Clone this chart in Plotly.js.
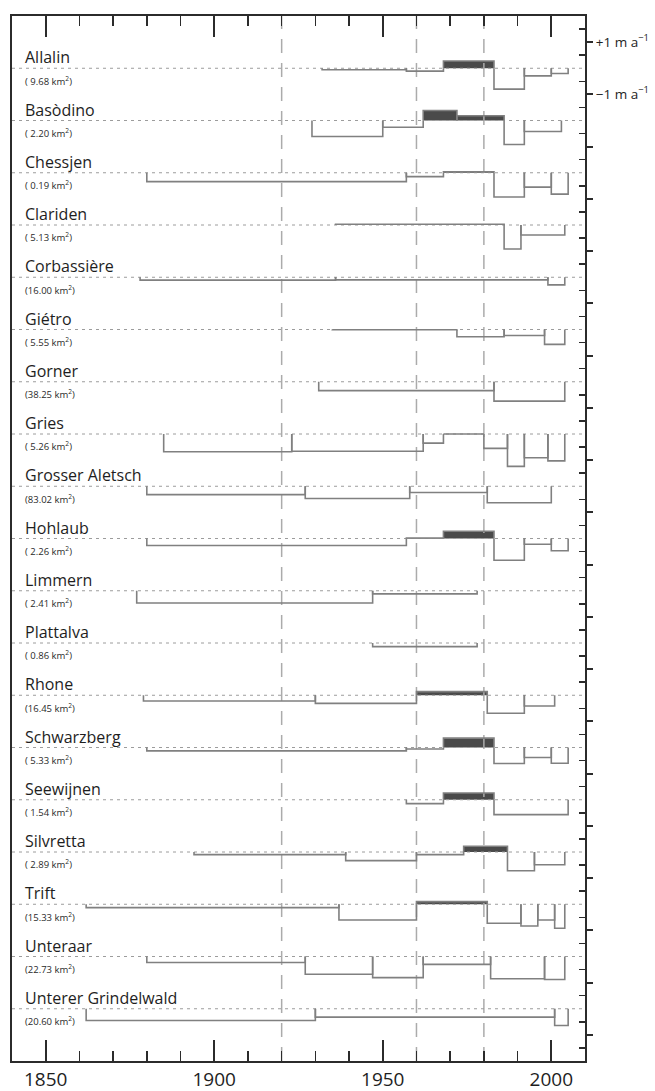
<!DOCTYPE html>
<html>
<head>
<meta charset="utf-8">
<script src="https://cdn.plot.ly/plotly-3.0.1.min.js"></script>
<style>
html,body{margin:0;padding:0;background:#ffffff;}
#chart{width:655px;height:1091px;}
</style>
</head>
<body>
<div id="chart"></div>
<script>
// Glacier names and areas (km²)
const glacierNames = ['Allalin','Basòdino','Chessjen','Clariden','Corbassière','Giétro','Gorner','Gries','Grosser Aletsch','Hohlaub','Limmern','Plattalva','Rhone','Schwarzberg','Seewijnen','Silvretta','Trift','Unteraar','Unterer Grindelwald'];
const glacierAreas = ['( 9.68','( 2.20','( 0.19','( 5.13','(16.00','( 5.55','(38.25','( 5.26','(83.02','( 2.26','( 2.41','( 0.86','(16.45','( 5.33','( 1.54','( 2.89','(15.33','(22.73','(20.60'];

// Period boundaries (years) and mean thickness change rate per period (m a^-1)
const allalinYears = [1932,1957,1968,1983,1992,2000,2005];
const allalinRates = [-0.06,-0.11,0.28,-0.80,-0.29,-0.20];
const basodinoYears = [1929,1950,1962,1972,1986,1992,2003];
const basodinoRates = [-0.61,-0.26,0.38,0.18,-0.92,-0.42];
const chessjenYears = [1880,1957,1968,1983,1992,2000,2005];
const chessjenRates = [-0.34,-0.15,0.04,-0.93,-0.55,-0.82];
const claridenYears = [1936,1986,1991,2004];
const claridenRates = [0.03,-0.92,-0.38];
const corbassiereYears = [1878,1936,1999,2004];
const corbassiereRates = [-0.11,-0.10,-0.29];
const gietroYears = [1935,1972,1986,1998,2004];
const gietroRates = [-0.01,-0.28,-0.23,-0.57];
const gornerYears = [1931,1983,2004];
const gornerRates = [-0.34,-0.74];
const griesYears = [1885,1923,1962,1968,1980,1987,1992,1999,2004];
const griesRates = [-0.68,-0.66,-0.35,0.0,-0.55,-1.24,-0.91,-1.03];
const aletschYears = [1880,1927,1958,1981,2000];
const aletschRates = [-0.32,-0.47,-0.24,-0.63];
const hohlaubYears = [1880,1957,1968,1983,1992,2000,2005];
const hohlaubRates = [-0.27,0.02,0.28,-0.83,-0.22,-0.47];
const limmernYears = [1877,1947,1978];
const limmernRates = [-0.47,-0.12];
const plattalvaYears = [1947,1978];
const plattalvaRates = [-0.14];
const rhoneYears = [1879,1930,1960,1981,1992,2001];
const rhoneRates = [-0.22,-0.31,0.14,-0.69,-0.41];
const schwarzbergYears = [1880,1957,1968,1983,1992,2000,2005];
const schwarzbergRates = [-0.13,-0.06,0.36,-0.61,-0.38,-0.60];
const seewijnenYears = [1957,1968,1983,2005];
const seewijnenRates = [-0.15,0.26,-0.57];
const silvrettaYears = [1894,1939,1960,1974,1987,1995,2004];
const silvrettaRates = [-0.10,-0.33,-0.10,0.22,-0.72,-0.49];
const triftYears = [1862,1937,1960,1981,1991,1996,2001,2004];
const triftRates = [-0.13,-0.60,0.10,-0.73,-0.83,-0.60,-0.92];
const unteraarYears = [1880,1927,1947,1962,1982,1998,2004];
const unteraarRates = [-0.23,-0.68,-0.81,-0.30,-0.85,-0.88];
const grindelwaldYears = [1862,1930,2001,2005];
const grindelwaldRates = [-0.45,-0.32,-0.64];

// Right-axis tick labels
const rateTickLabels = ['+1 m a<sup>−1</sup>','−1 m a<sup>−1</sup>'];
// x-axis labelled years and reference (dashed) years
const labelYears = [1850,1900,1950,2000];
const referenceYears = [1920,1960,1980];

const allYears = [allalinYears,basodinoYears,chessjenYears,claridenYears,corbassiereYears,gietroYears,gornerYears,griesYears,aletschYears,hohlaubYears,limmernYears,plattalvaYears,rhoneYears,schwarzbergYears,seewijnenYears,silvrettaYears,triftYears,unteraarYears,grindelwaldYears];
const allRates = [allalinRates,basodinoRates,chessjenRates,claridenRates,corbassiereRates,gietroRates,gornerRates,griesRates,aletschRates,hohlaubRates,limmernRates,plattalvaRates,rhoneRates,schwarzbergRates,seewijnenRates,silvrettaRates,triftRates,unteraarRates,grindelwaldRates];

const xr = [1840, 2010];
const yr = [-38, 2];
const frame = '#2b2b2b';

const n = glacierNames.length;
const spacing = 2;
const lineX = [], lineY = [];
const barX = [], barW = [], barBase = [], barY = [];
const baseX = [], baseY = [];
const annotations = [];
for (let i = 0; i < n; i++) {
  const base = -spacing * i;
  baseX.push(xr[0], xr[1], null);
  baseY.push(base, base, null);
  const t = allYears[i], r = allRates[i];
  for (let k = 0; k < r.length; k++) {
    lineX.push(t[k], t[k], t[k+1], t[k+1], null);
    lineY.push(base, base + r[k], base + r[k], base, null);
    if (r[k] > 0) {
      barX.push((t[k] + t[k+1]) / 2);
      barW.push(t[k+1] - t[k]);
      barBase.push(base);
      barY.push(r[k]);
    }
  }
  annotations.push({
    xref: 'paper', yref: 'y', x: 0.019, y: base + 0.42,
    xanchor: 'left', yanchor: 'middle', showarrow: false,
    text: glacierNames[i],
    font: {family: 'Open Sans, sans-serif', size: 16, color: '#1e1e1e'}
  });
  annotations.push({
    xref: 'paper', yref: 'y', x: 0.02, y: base - 0.47,
    xanchor: 'left', yanchor: 'middle', showarrow: false,
    text: glacierAreas[i] + ' km<sup>2</sup>)',
    font: {family: 'Open Sans, sans-serif', size: 9.5, color: '#2a2a2a'}
  });
}

const refX = [], refY = [];
referenceYears.forEach(function (yv) { refX.push(yv, yv, null); refY.push(yr[0], yr[1], null); });

const majorRateTicks = [];
for (let v = 1; v >= -37; v -= 2) majorRateTicks.push(v);
const majorRateText = majorRateTicks.map((v, j) => j < 2 ? rateTickLabels[j] : '');

const traces = [
  {type: 'scatter', mode: 'lines', x: refX, y: refY, connectgaps: false,
   line: {color: '#ababab', width: 1.5, dash: '14px,10px'}, hoverinfo: 'skip', showlegend: false},
  {type: 'scatter', mode: 'lines', x: baseX, y: baseY, connectgaps: false,
   line: {color: '#9c9c9c', width: 1, dash: '3px,4px'}, hoverinfo: 'skip', showlegend: false},
  {type: 'bar', x: barX, y: barY, base: barBase, width: barW,
   marker: {color: '#4a4a4a', line: {width: 0}}, hoverinfo: 'skip', showlegend: false},
  {type: 'scatter', mode: 'lines', x: lineX, y: lineY, connectgaps: false,
   line: {color: '#808080', width: 1.6}, hoverinfo: 'skip', showlegend: false}
];

const layout = {
  width: 655, height: 1091,
  margin: {l: 12, r: 70, t: 16, b: 30},
  paper_bgcolor: '#ffffff', plot_bgcolor: '#ffffff',
  showlegend: false, barmode: 'overlay',
  font: {family: 'Open Sans, sans-serif', color: '#1e1e1e'},
  xaxis: {
    range: xr, tickmode: 'array', tickvals: labelYears,
    ticks: 'inside', ticklen: 21, tickwidth: 2, tickcolor: frame,
    minor: {tick0: 1850, dtick: 10, ticks: 'inside', ticklen: 10, tickwidth: 1.6, tickcolor: frame, showgrid: false},
    showline: true, linewidth: 2, linecolor: frame, mirror: 'ticks',
    showgrid: false, zeroline: false, fixedrange: true,
    tickfont: {family: 'Open Sans, sans-serif', size: 19, color: '#1e1e1e'}
  },
  yaxis: {
    side: 'right', range: yr,
    tickmode: 'array', tickvals: majorRateTicks, ticktext: majorRateText,
    ticks: 'outside', ticklen: 6, tickwidth: 2, tickcolor: frame,
    minor: {tick0: 0.5, dtick: 1, ticks: 'inside', ticklen: 6, tickwidth: 1.4, tickcolor: frame, showgrid: false},
    showline: true, linewidth: 2, linecolor: frame, mirror: true,
    showgrid: false, zeroline: false, fixedrange: true,
    tickfont: {family: 'Open Sans, sans-serif', size: 13.5, color: '#1e1e1e'}
  },
  yaxis2: {
    overlaying: 'y', anchor: 'x', side: 'right', range: yr,
    tickmode: 'array', tickvals: majorRateTicks,
    ticks: 'inside', ticklen: 6, tickwidth: 2, tickcolor: frame,
    showticklabels: false, showline: false, showgrid: false, zeroline: false, fixedrange: true
  },
  annotations: annotations
};

Plotly.newPlot('chart', traces, layout, {staticPlot: true, displayModeBar: false});
</script>
</body>
</html>
